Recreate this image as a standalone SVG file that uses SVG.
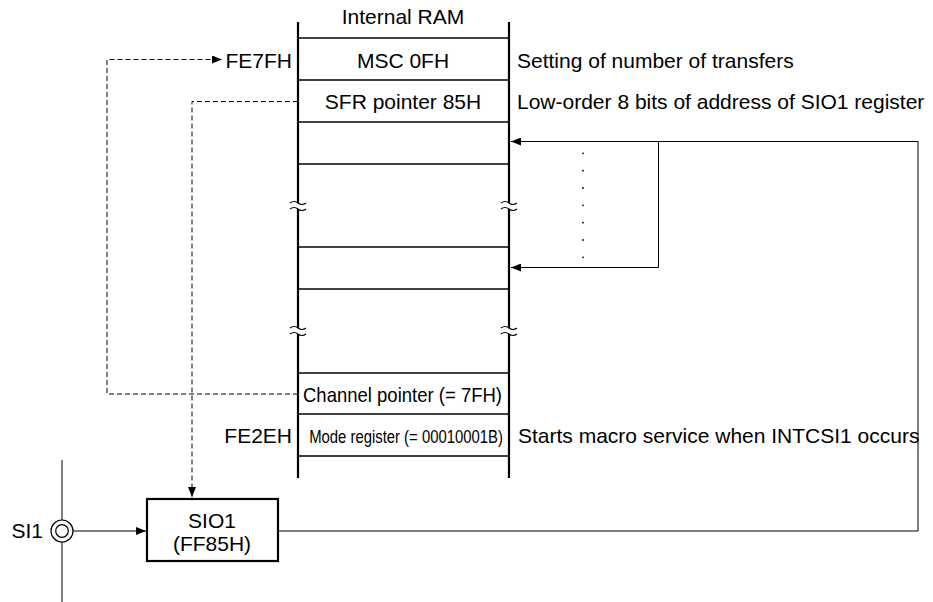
<svg xmlns="http://www.w3.org/2000/svg" width="933" height="602" viewBox="0 0 933 602">
<style>
text{font-family:"Liberation Sans",Arial,sans-serif;font-size:21px;fill:#000}
.m{text-anchor:middle}
.e{text-anchor:end}
.row{stroke:#000;stroke-width:1.3;fill:none}
.wall{stroke:#000;stroke-width:2.2;fill:none}
.ln{stroke:#000;stroke-width:1;fill:none}
.dash{stroke:#000;stroke-width:1;fill:none;stroke-dasharray:5 3}
.brk{stroke:#000;stroke-width:1.2;fill:none}
</style>
<defs>
<marker id="ah" viewBox="0 0 10 8" refX="10" refY="4" markerWidth="10" markerHeight="8" markerUnits="userSpaceOnUse" orient="auto">
<path d="M0,0 L10,4 L0,8 Z" fill="#000"/>
</marker>
</defs>
<rect width="933" height="602" fill="#fff"/>

<g id="ram">
<text class="m" x="403" y="24">Internal RAM</text>
<line class="wall" x1="298" y1="22" x2="298" y2="478"/>
<line class="wall" x1="509" y1="22" x2="509" y2="478"/>
<line class="row" x1="298" y1="38" x2="509" y2="38"/>
<line class="row" x1="298" y1="80" x2="509" y2="80"/>
<line class="row" x1="298" y1="122" x2="509" y2="122"/>
<line class="row" x1="298" y1="164" x2="509" y2="164"/>
<line class="row" x1="298" y1="247" x2="509" y2="247"/>
<line class="row" x1="298" y1="289" x2="509" y2="289"/>
<line class="row" x1="298" y1="373" x2="509" y2="373"/>
<line class="row" x1="298" y1="414" x2="509" y2="414"/>
<line class="row" x1="298" y1="456" x2="509" y2="456"/>
<text class="m" x="403" y="67.5">MSC 0FH</text>
<text class="m" x="403" y="108.5">SFR pointer 85H</text>
<text class="m" x="402.5" y="401.5" textLength="199" lengthAdjust="spacingAndGlyphs">Channel pointer (= 7FH)</text>
<text class="m" transform="translate(406,443) scale(0.783,1)" x="0" y="0" style="font-size:19px">Mode register (= 00010001B)</text>
<g id="breaks">
<rect x="290" y="203" width="16" height="6" fill="#fff"/>
<rect x="501" y="203" width="16" height="6" fill="#fff"/>
<rect x="290" y="328" width="16" height="6" fill="#fff"/>
<rect x="501" y="328" width="16" height="6" fill="#fff"/>
<path class="brk" d="M290,203 q4,-3 8,0 t8,0 M290,209 q4,-3 8,0 t8,0"/>
<path class="brk" d="M501,203 q4,-3 8,0 t8,0 M501,209 q4,-3 8,0 t8,0"/>
<path class="brk" d="M290,328 q4,-3 8,0 t8,0 M290,334 q4,-3 8,0 t8,0"/>
<path class="brk" d="M501,328 q4,-3 8,0 t8,0 M501,334 q4,-3 8,0 t8,0"/>
</g>
</g>

<g id="labels">
<text class="e" x="292" y="67.5">FE7FH</text>
<text class="e" x="292" y="443">FE2EH</text>
<text x="517" y="67.5">Setting of number of transfers</text>
<text x="517" y="108.5">Low-order 8 bits of address of SIO1 register</text>
<text x="518" y="443">Starts macro service when INTCSI1 occurs</text>
</g>

<g id="sio1">
<rect x="147" y="499" width="131" height="62" fill="#fff" stroke="#000" stroke-width="2.2"/>
<text class="m" x="212" y="528">SIO1</text>
<text class="m" x="212" y="551">(FF85H)</text>
</g>

<g id="si1">
<line class="ln" x1="62" y1="460" x2="62" y2="520"/>
<line class="ln" x1="62" y1="542" x2="62" y2="602"/>
<circle cx="62" cy="531" r="11" fill="none" stroke="#000" stroke-width="1.2"/>
<circle cx="62" cy="531" r="6.3" fill="none" stroke="#000" stroke-width="1.2"/>
<text class="e" x="43" y="538">SI1</text>
</g>

<g id="connectors">
<polyline class="dash" points="298,394 107,394 107,59.5 222,59.5" marker-end="url(#ah)"/>
<polyline class="dash" points="298,101.5 192,101.5 192,497" marker-end="url(#ah)"/>
<line class="ln" x1="73" y1="531" x2="146" y2="531" marker-end="url(#ah)"/>
<polyline class="ln" points="278,531 918,531 918,141.5 511,141.5" marker-end="url(#ah)"/>
<polyline class="ln" points="658.5,141.5 658.5,267.5 511,267.5" marker-end="url(#ah)"/>
<g fill="#000">
<circle cx="583" cy="153.3" r="0.9"/>
<circle cx="583" cy="170.7" r="0.9"/>
<circle cx="583" cy="188" r="0.9"/>
<circle cx="583" cy="205.3" r="0.9"/>
<circle cx="583" cy="222.7" r="0.9"/>
<circle cx="583" cy="240" r="0.9"/>
<circle cx="583" cy="257.3" r="0.9"/>
</g>
</g>
</svg>
